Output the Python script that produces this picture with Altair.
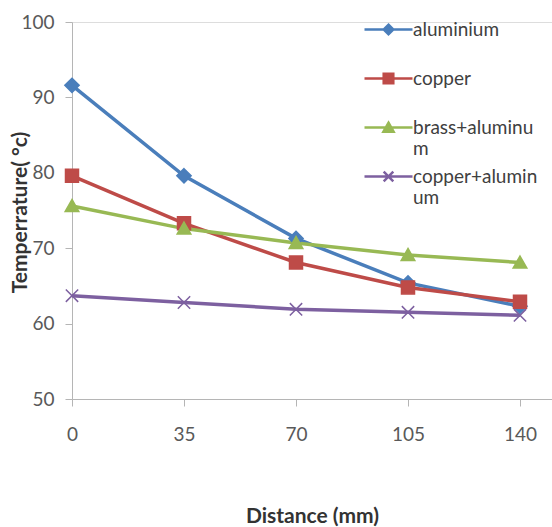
import altair as alt
import pandas as pd

distance = [0, 35, 70, 105, 140]
series_names = ["aluminium", "copper", "brass+aluminum", "copper+aluminum"]
aluminium = [91.6, 79.6, 71.3, 65.4, 62.3]
copper = [79.6, 73.3, 68.1, 64.8, 62.9]
brass_aluminum = [75.6, 72.6, 70.7, 69.1, 68.1]
copper_aluminum = [63.7, 62.8, 61.9, 61.5, 61.1]
x_ticks = [0, 35, 70, 105, 140]
y_ticks = [50, 60, 70, 80, 90, 100]
colors = ["#4A7EBB", "#BE4B48", "#98B954", "#7D60A0"]

marker_paths = [
    "M0,-1.1L1.1,0L0,1.1L-1.1,0Z",
    "M-1,-1H1V1H-1Z",
    "M0,-1L1.05,0.85H-1.05Z",
    "M-0.95,-0.95L0.95,0.95M-0.95,0.95L0.95,-0.95",
]
legend_paths = [
    "M-4,0H4M0,-0.8L0.8,0L0,0.8L-0.8,0Z",
    "M-4,0H4M-0.8,-0.8H0.8V0.8H-0.8Z",
    "M-4,0H4M0,-0.8L0.85,0.7H-0.85Z",
    "M-4,0H4M-0.8,-0.8L0.8,0.8M-0.8,0.8L0.8,-0.8",
]

rows = []
for name, vals in zip(series_names, [aluminium, copper, brass_aluminum, copper_aluminum]):
    for d, v in zip(distance, vals):
        rows.append({"distance": d, "temp": v, "series": name})
df = pd.DataFrame(rows)

FONT = "Lato"

x = alt.X(
    "distance:Q",
    scale=alt.Scale(domain=[0, 150], nice=False, zero=False),
    axis=alt.Axis(
        values=x_ticks, title="Distance (mm)", grid=False, tickSize=7,
        labelPadding=19, labelFontSize=19, labelFont=FONT, labelColor="#595959",
        labelFlush=False, titleFont=FONT, titleFontSize=21, titleFontWeight="bold",
        titleColor="#333333", titleX=240, titleY=117, titleBaseline="middle",
        domainColor="#B5B5B5", tickColor="#B5B5B5",
    ),
)
y = alt.Y(
    "temp:Q",
    scale=alt.Scale(domain=[50, 100], nice=False, zero=False),
    axis=alt.Axis(
        values=y_ticks, title="Temperrature( °c)", grid=False, tickSize=7,
        labelPadding=11, labelFontSize=19, labelFont=FONT, labelColor="#595959",
        titleFont=FONT, titleFontSize=21, titleFontWeight="bold", titleColor="#333333",
        titleX=-52, titleY=190, titleAlign="center", titleBaseline="middle",
        domainColor="#B5B5B5", tickColor="#B5B5B5",
    ),
)

color_scale = alt.Scale(domain=series_names, range=colors)

lines = alt.Chart(df).mark_line(strokeWidth=3.5).encode(
    x=x, y=y, color=alt.Color("series:N", scale=color_scale, legend=None)
)

points = alt.Chart(df).mark_point(filled=True, size=169, opacity=1, strokeWidth=1.5).encode(
    x=x, y=y,
    fill=alt.Fill("series:N", scale=color_scale, legend=None),
    stroke=alt.Stroke("series:N", scale=color_scale, legend=None),
    shape=alt.Shape("series:N", scale=alt.Scale(domain=series_names, range=marker_paths), legend=None),
)

leg = alt.Legend(
    title=None, orient="none", legendX=307, legendY=-2, padding=0,
    symbolSize=144, symbolStrokeWidth=2.5, labelOffset=15,
    labelFont=FONT, labelFontSize=19, labelColor="#404040", rowPadding=7,
    labelLimit=300,
    labelExpr="datum.label == 'brass+aluminum' ? ['brass+aluminu', 'm'] : datum.label == 'copper+aluminum' ? ['copper+alumin', 'um'] : [datum.label, '']",
)

legend_layer = alt.Chart(df).transform_filter("false").mark_point(
    filled=True, size=144, opacity=1, strokeWidth=2.5
).encode(
    x=x, y=y,
    fill=alt.Fill("series:N", scale=color_scale, legend=leg),
    stroke=alt.Stroke("series:N", scale=color_scale, legend=leg),
    shape=alt.Shape("series:N", scale=alt.Scale(domain=series_names, range=legend_paths), legend=leg),
)

chart = alt.layer(lines, points, legend_layer).resolve_scale(
    color="independent", fill="independent", stroke="independent", shape="independent"
).properties(
    width=480, height=377,
    autosize=alt.AutoSizeParams(type="none"),
    padding={"left": 72, "top": 22, "right": 0, "bottom": 128},
).configure_view(stroke=None).configure(background="white")

chart.save("out.html", embed_options={"renderer": "svg", "actions": False})
